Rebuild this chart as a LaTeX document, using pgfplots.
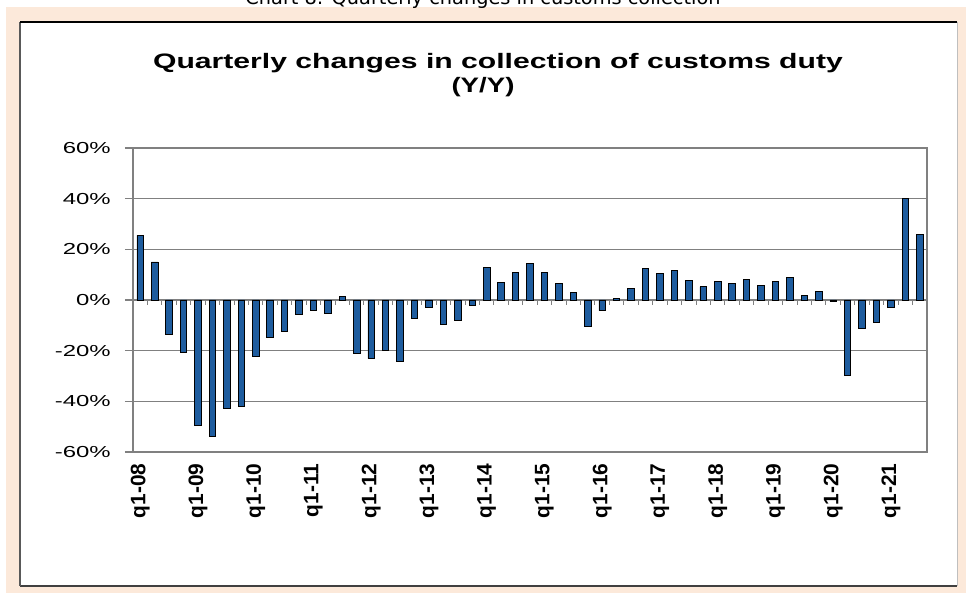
\documentclass[border=0pt]{standalone}
\usepackage{pgfplots}
\pgfplotsset{compat=1.18}
\usepackage{fontspec}
\setmainfont{Liberation Sans}
\newfontfamily\dejavu{DejaVu Sans}
\definecolor{peach}{RGB}{252,233,218}
\definecolor{barblue}{RGB}{30,92,158}
\definecolor{gridgray}{RGB}{128,128,128}
\pgfplotstableread{
x y
0 25.5
1 15.0
2 -13.7
3 -20.5
4 -49.5
5 -53.9
6 -42.7
7 -42.0
8 -22.2
9 -14.9
10 -12.3
11 -5.6
12 -4.3
13 -5.2
14 1.5
15 -20.9
16 -23.1
17 -19.9
18 -24.4
19 -7.1
20 -2.9
21 -9.8
22 -8.1
23 -2.0
24 12.7
25 7.1
26 11.0
27 14.4
28 11.0
29 6.5
30 3.0
31 -10.5
32 -4.2
33 0.7
34 4.4
35 12.4
36 10.4
37 11.6
38 7.8
39 5.2
40 7.4
41 6.5
42 8.0
43 5.6
44 7.4
45 8.9
46 1.7
47 3.3
48 -0.5
49 -29.8
50 -11.4
51 -8.8
52 -3.0
53 40.1
54 25.7
}\datatable
\begin{document}
\begin{tikzpicture}
\fill[white] (0bp,0bp) rectangle (966bp,593bp);
\fill[peach] (6bp,0bp) rectangle (966bp,586bp);
\fill[white] (20bp,7bp) rectangle (957bp,571bp);
\draw[black!25, line width=1bp] (957bp,571bp) -- (957bp,7bp);
\draw[black!75, line width=1.2bp] (20bp,7bp) -- (957bp,7bp);
\draw[black!65, line width=1.5bp] (20bp,7bp) -- (20bp,571bp);
\draw[black, line width=1.5bp] (20bp,571bp) -- (957bp,571bp);
\node[font=\dejavu\fontsize{19.4}{22}\selectfont, anchor=base, inner sep=0pt] at (483bp,588.5bp) {Chart 8: Quarterly changes in customs collection};
\node[font=\bfseries\fontsize{21}{24}\selectfont, xscale=1.44, inner sep=0pt] at (498bp,530bp) {Quarterly changes in collection of customs duty};
\node[font=\bfseries\fontsize{21}{24}\selectfont, xscale=1.32, inner sep=0pt] at (483bp,506bp) {(Y/Y)};
% zero-line category ticks
\begin{axis}[at={(133bp,141bp)}, anchor=south west, width=794bp, height=304bp, scale only axis,
  xmin=-0.5, xmax=54.5, ymin=-60, ymax=60,
  axis x line=middle, axis y line=none,
  xtick={-0.5,0.5,...,54.5}, xticklabels={},
  tick align=outside, major tick length=5bp,
  x tick style={gridgray, line width=1bp},
  axis line style={gridgray, line width=1.2bp, -}]
\addplot[draw=none] coordinates {(0,0)};
\end{axis}
\begin{axis}[at={(133bp,141bp)}, anchor=south west, width=794bp, height=304bp, scale only axis,
  xmin=-0.5, xmax=54.5, ymin=-60, ymax=60,
  ybar, bar width=6.5bp,
  xtick={0,4,...,52},
  xticklabels={q1-08,q1-09,q1-10,q1-11,q1-12,q1-13,q1-14,q1-15,q1-16,q1-17,q1-18,q1-19,q1-20,q1-21},
  x tick label style={rotate=90, anchor=east, font=\bfseries\fontsize{21}{21}\selectfont},
  x tick style={draw=none},
  ytick={-60,-40,...,60},
  yticklabels={-60\%,-40\%,-20\%,0\%,20\%,40\%,60\%},
  y tick label style={font=\fontsize{16}{16}\selectfont, xscale=1.5, xshift=-6bp},
  ytick pos=left, tick align=outside, major tick length=8bp,
  y tick style={gridgray, line width=1.2bp},
  ymajorgrids, grid style={gridgray, line width=1.2bp},
  axis line style={gridgray, line width=1.2bp}]
\addplot[fill=barblue, draw=black, line width=0.8bp] table[x=x,y=y] {\datatable};
\end{axis}
\pgfresetboundingbox
\path[use as bounding box] (0bp,0bp) rectangle (966bp,593bp);
\end{tikzpicture}
\end{document}
